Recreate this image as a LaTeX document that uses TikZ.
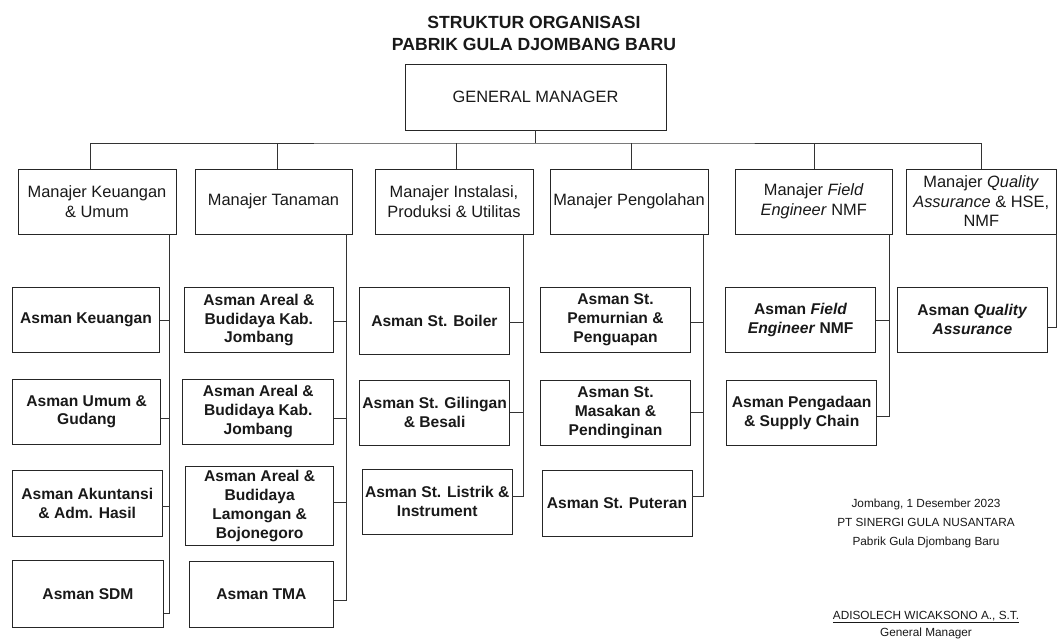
\documentclass[tikz,border=0pt]{standalone}
\usepackage{fontspec}
\setmainfont{Liberation Sans}
\begin{document}
\begin{tikzpicture}[x=1pt,y=-1pt,
  box/.style={draw=black!85, line width=0.9pt, inner sep=0pt, align=center, text=black!90},
  mgr/.style={box, font=\fontsize{16.4}{19.5}\selectfont},
  asm/.style={box, font=\fontsize{15.6}{18.8}\selectfont\bfseries},
  conn/.style={draw=black!80, line width=0.8pt},
  ttl/.style={align=center, inner sep=0pt, font=\fontsize{17.6}{21.3}\selectfont\bfseries, text=black!90},
  foot/.style={align=center, inner sep=0pt, font=\fontsize{11.8}{19}\selectfont, text=black!90}]
\fill[white] (0,0) rectangle (1057,642);
\useasboundingbox (0,0) rectangle (1057,642);
\newcommand{\bx}[7]{\node[#2, minimum width={#5-#3}, minimum height={#6-#4}] (#1) at ({(#3+#5)/2},{(#4+#6)/2}) {#7};}
\newcommand{\hook}[3]{\draw[conn] ([yshift=#3]#1.east) -- ([yshift=#3]#1.east -| #2);}
% title
\node[ttl] (title) at (534,33.4) {STRUKTUR ORGANISASI\\PABRIK GULA DJOMBANG BARU};
% general manager
\bx{GM}{mgr}{405}{64}{666}{130}{GENERAL MANAGER}
% managers
\bx{M1}{mgr}{18}{169}{176}{234}{Manajer Keuangan\\\& Umum}
\bx{M2}{mgr}{195}{169}{352}{234}{Manajer Tanaman}
\bx{M3}{mgr}{375}{169}{533}{234}{Manajer Instalasi,\\Produksi \& Utilitas}
\bx{M4}{mgr}{550}{169}{708}{234}{Manajer Pengolahan}
\bx{M5}{mgr}{735}{169}{892.5}{234}{Manajer \textit{Field}\\\textit{Engineer} NMF}
\bx{M6}{mgr}{906.5}{169}{1056}{234}{Manajer \textit{Quality}\\\textit{Assurance} \& HSE,\\NMF}
% column 1
\bx{A11}{asm}{12.5}{287.3}{159.5}{352.7}{Asman Keuangan}
\bx{A12}{asm}{12.5}{379}{160.8}{444.5}{Asman Umum \&\\Gudang}
\bx{A13}{asm}{12.5}{470.3}{162}{536}{Asman Akuntansi\\\& Adm. Hasil}
\bx{A14}{asm}{12.5}{560.7}{163.5}{627.7}{Asman SDM}
% column 2
\bx{A21}{asm}{184}{287.3}{333.8}{352.7}{Asman Areal \&\\Budidaya Kab.\\Jombang}
\bx{A22}{asm}{182.8}{379}{333.8}{444.5}{Asman Areal \&\\Budidaya Kab.\\Jombang}
\bx{A23}{asm}{185.5}{466.7}{333.8}{545}{Asman Areal \&\\Budidaya\\Lamongan \&\\Bojonegoro}
\bx{A24}{asm}{189}{561}{333.8}{627.7}{Asman TMA}
% column 3
\bx{A31}{asm}{359.8}{287.8}{509}{354.4}{Asman St. Boiler}
\bx{A32}{asm}{359.8}{380.3}{509.5}{445.3}{Asman St. Gilingan\\\& Besali}
\bx{A33}{asm}{362.5}{469}{512}{534.3}{Asman St. Listrik \&\\Instrument}
% column 4
\bx{A41}{asm}{540.5}{287.3}{690.5}{352.7}{Asman St.\\Pemurnian \&\\Penguapan}
\bx{A42}{asm}{540.5}{380}{690.5}{445.7}{Asman St.\\Masakan \&\\Pendinginan}
\bx{A43}{asm}{542}{470}{692}{536}{Asman St. Puteran}
% column 5
\bx{A51}{asm}{725.8}{287.3}{875.5}{352.7}{Asman \textit{Field}\\\textit{Engineer} NMF}
\bx{A52}{asm}{726.8}{380}{876.5}{445.7}{Asman Pengadaan\\\& Supply Chain}
% column 6
\bx{A61}{asm}{897.4}{287}{1047.4}{352.3}{Asman \textit{Quality}\\\textit{Assurance}}
% top connectors
\coordinate (bus) at (533,143);
\draw[conn] (GM.south) -- (GM.south |- bus);
\draw[conn] ([xshift=-7pt]M1.north) |- (bus) -| (M6.north);
\draw[conn] ([xshift=3.5pt]M2.north) -- ([xshift=3.5pt]M2.north |- bus);
\draw[conn] ([xshift=2pt]M3.north) -- ([xshift=2pt]M3.north |- bus);
\draw[conn] ([xshift=2pt]M4.north) -- ([xshift=2pt]M4.north |- bus);
\draw[conn] ([xshift=1pt]M5.north) -- ([xshift=1pt]M5.north |- bus);
% column verticals
\coordinate (v1) at (169,0);
\coordinate (v2) at (346,0);
\coordinate (v3) at (523,0);
\coordinate (v4) at (703,0);
\coordinate (v5) at (889,0);
\coordinate (v6) at (1056,0);
\draw[conn] (M1.south -| v1) |- ([yshift=-19pt]A14.east);
\hook{A11}{v1}{0pt}
\hook{A12}{v1}{-6.5pt}
\hook{A13}{v1}{-2.9pt}
\draw[conn] (M2.south -| v2) |- ([yshift=-5.6pt]A24.east);
\hook{A21}{v2}{-1.7pt}
\hook{A22}{v2}{-6.5pt}
\hook{A23}{v2}{3.5pt}
\draw[conn] (M3.south -| v3) |- ([yshift=5pt]A33.east);
\hook{A31}{v3}{-1.6pt}
\hook{A32}{v3}{0pt}
\draw[conn] (M4.south -| v4) |- ([yshift=6.3pt]A43.east);
\hook{A41}{v4}{-2.7pt}
\hook{A42}{v4}{0pt}
\draw[conn] (M5.south -| v5) |- ([yshift=-3.9pt]A52.east);
\hook{A51}{v5}{0pt}
\draw[conn] (M6.south -| v6) |- ([yshift=-8pt]A61.east);
% footer
\node[foot] (place) at (926,523.2) {Jombang, 1 Desember 2023\\PT SINERGI GULA NUSANTARA\\Pabrik Gula Djombang Baru};
\node[foot, font=\fontsize{11.8}{16.3}\selectfont] (sign) at (926,625) {\underline{ADISOLECH WICAKSONO A., S.T.}\\General Manager};
\end{tikzpicture}
\end{document}
